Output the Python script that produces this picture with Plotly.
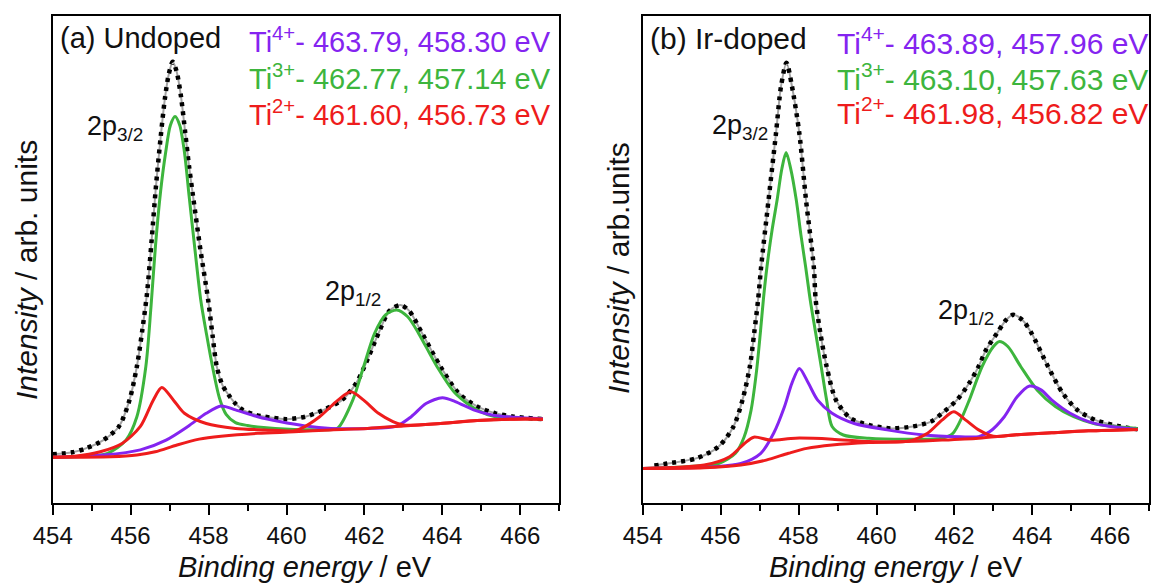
import plotly.graph_objects as go

# ---------------- Panel (a) Undoped ----------------
a_exp_x = [454.0, 454.5, 454.85, 455.3, 455.7, 455.97, 456.16, 456.30, 456.42, 456.54, 456.65, 456.77, 456.88,
           456.98, 457.08, 457.18, 457.29, 457.40, 457.50, 457.60, 457.79, 457.99, 458.10, 458.21, 458.35,
           458.51, 458.70, 458.88, 459.20, 459.45, 460.0, 460.48, 460.95, 461.42, 461.79, 462.0, 462.36,
           462.64, 462.92, 463.15, 463.48, 463.95, 464.42, 464.89, 465.36, 465.83, 466.58]
a_exp_y = [10.0, 10.4, 11.2, 12.9, 15.7, 21.1, 28.0, 35.5, 43.0, 54.0, 65.0, 75.0, 83.0,
           88.0, 90.5, 88.5, 83.5, 76.0, 69.0, 63.0, 52.0, 41.6, 34.5, 28.0, 24.3,
           22.2, 20.3, 19.1, 18.1, 17.7, 17.2, 17.7, 19.1, 21.1, 24.6, 28.0, 34.8,
           39.4, 40.6, 39.4, 34.8, 28.0, 22.5, 19.8, 18.4, 17.7, 17.2]

a_ti3_x = [454.0, 454.56, 455.41, 455.88, 456.16, 456.39, 456.52, 456.64, 456.77, 456.90, 457.02, 457.14,
           457.26, 457.38, 457.50, 457.65, 457.80, 457.95, 458.10, 458.28, 458.45, 458.69, 459.0, 459.26,
           460.2, 461.14, 461.32, 461.70, 461.98, 462.26, 462.54, 462.83, 463.11, 463.39, 463.86, 464.33,
           464.89, 465.36, 466.58]
a_ti3_y = [9.4, 9.5, 10.2, 12.9, 17.7, 28.0, 40.0, 53.0, 64.0, 72.0, 77.5, 79.3,
           77.5, 72.0, 63.0, 52.0, 41.6, 34.5, 28.0, 21.5, 18.2, 16.5, 15.9, 15.6,
           15.1, 15.1, 15.4, 21.1, 28.0, 34.8, 38.6, 39.6, 38.2, 34.8, 28.0, 22.5,
           19.1, 17.7, 17.3]

a_ti4_x = [454.0, 455.31, 456.25, 456.91, 457.47, 457.94, 458.32, 458.69, 459.26, 459.82, 460.48, 461.14,
           462.08, 462.83, 463.20, 463.58, 464.0, 464.33, 464.80, 465.27, 465.83, 466.58]
a_ti4_y = [9.4, 9.85, 10.9, 12.9, 15.7, 18.4, 19.9, 19.1, 17.7, 16.7, 15.8, 15.3,
           15.3, 15.8, 17.7, 20.4, 21.6, 20.8, 19.1, 18.05, 17.6, 17.3]

a_ti2_x = [454.0, 454.56, 455.22, 455.78, 456.25, 456.58, 456.80, 457.10, 457.38, 457.94, 458.69, 459.45,
           460.2, 460.38, 460.85, 461.32, 461.65, 461.98, 462.36, 462.73, 463.0, 463.95, 464.89, 465.83, 466.58]
a_ti2_y = [9.4, 9.6, 10.5, 12.2, 15.7, 21.1, 23.7, 21.1, 18.4, 16.3, 15.3, 15.0,
           14.8, 15.3, 17.7, 21.1, 22.8, 21.1, 18.4, 16.7, 16.0, 16.3, 16.9, 17.2, 17.2]

a_bg_x = [454.0, 455.5, 456.16, 456.63, 457.19, 457.76, 458.32, 459.26, 460.2, 461.14, 462.08, 463.0,
          463.95, 464.89, 465.83, 466.58]
a_bg_y = [9.4, 9.5, 9.85, 10.5, 11.9, 13.1, 13.7, 14.3, 14.6, 15.0, 15.3, 15.8,
          16.3, 16.9, 17.2, 17.2]

# ---------------- Panel (b) Ir-doped ----------------
b_exp_x = [454.3, 454.64, 455.39, 455.95, 456.33, 456.56, 456.75, 456.86, 456.96, 457.04, 457.23, 457.42,
           457.55, 457.69, 457.83, 458.02, 458.19, 458.39, 458.44, 458.56, 458.72, 458.96, 459.33, 459.80,
           460.37, 460.93, 461.40, 461.68, 462.06, 462.38, 462.62, 462.81, 463.09, 463.32, 463.51, 463.75,
           463.98, 464.40, 464.78, 465.15, 465.62, 466.19, 466.70]
b_exp_y = [7.7, 8.1, 9.2, 11.6, 15.7, 21.1, 28.0, 34.8, 41.6, 48.5, 62.2, 75.8,
           85.5, 90.3, 85.5, 75.8, 62.2, 48.5, 41.6, 34.8, 28.0, 21.1, 17.4, 16.0,
           15.3, 15.7, 16.7, 18.4, 21.1, 24.6, 28.0, 31.4, 34.8, 37.5, 38.6, 37.5,
           34.8, 28.0, 22.5, 19.1, 17.0, 15.8, 15.1]

b_ti3_x = [454.0, 455.11, 455.95, 456.38, 456.60, 456.78, 456.92, 457.02, 457.10, 457.19, 457.32, 457.45,
           457.57, 457.68, 457.80, 457.94, 458.06, 458.18, 458.30, 458.44, 458.58, 458.72, 458.86, 459.15,
           459.80, 460.74, 461.68, 461.96, 462.20, 462.38, 462.71, 463.00, 463.14, 463.37, 463.70, 464.12,
           464.59, 465.06, 465.62, 466.70]
b_ti3_y = [7.1, 7.45, 8.1, 10.2, 13.5, 19.0, 27.0, 35.0, 42.0, 48.5, 56.0, 62.2,
           68.5, 71.9, 68.5, 62.2, 55.0, 48.5, 41.6, 34.8, 28.0, 21.1, 15.7, 13.95,
           13.3, 13.1, 13.3, 14.3, 17.7, 21.1, 28.0, 32.1, 33.1, 32.1, 28.0, 23.2,
           19.8, 17.7, 16.2, 15.3]

b_ti4_x = [454.0, 455.86, 456.52, 457.03, 457.36, 457.64, 457.83, 458.02, 458.25, 458.49, 458.86, 459.43,
           460.27, 461.21, 462.15, 462.62, 462.90, 463.28, 463.61, 463.93, 464.22, 464.50, 464.97, 465.44,
           466.00, 466.70]
b_ti4_y = [7.1, 7.45, 8.1, 10.2, 14.3, 19.8, 24.6, 27.6, 24.6, 21.1, 18.4, 16.3,
           15.0, 13.95, 13.6, 13.6, 14.6, 17.7, 21.8, 24.0, 23.2, 21.1, 18.4, 16.7,
           15.7, 15.1]

b_ti2_x = [454.0, 455.58, 456.23, 456.61, 456.85, 457.27, 457.92, 458.86, 459.80, 460.74, 460.93, 461.31,
           461.68, 461.98, 462.29, 462.62, 463.00, 463.56, 464.50, 465.44, 466.70]
b_ti2_y = [7.1, 7.8, 9.5, 12.2, 13.5, 12.9, 13.3, 13.1, 12.6, 12.6, 12.9, 14.3,
           17.0, 18.7, 17.0, 15.0, 13.7, 14.0, 14.4, 14.8, 15.1]

b_bg_x = [454.0, 455.58, 456.52, 457.17, 457.74, 458.21, 458.86, 459.80, 460.74, 461.68, 462.62, 463.56,
          464.50, 465.44, 466.70]
b_bg_y = [7.1, 7.25, 7.8, 8.8, 10.2, 11.2, 11.9, 12.4, 12.6, 12.9, 13.3, 13.95,
          14.4, 14.8, 15.1]

# Labels
x_ticks = [454, 456, 458, 460, 462, 464, 466]
a_title = "(a) Undoped"
b_title = "(b) Ir-doped"
a_lines = ["463.79, 458.30 eV", "462.77, 457.14 eV", "461.60, 456.73 eV"]
b_lines = ["463.89, 457.96 eV", "463.10, 457.63 eV", "461.98, 456.82 eV"]
states = ["4+", "3+", "2+"]

GREEN = "#3DB53D"
PURPLE = "#8424F0"
RED = "#EE1C1C"
GREY = "#A3A3A3"
FONT = "Liberation Sans, Arial, sans-serif"

fig = go.Figure()


def add_panel(xa, ya, ex, ey, g, p, r, bg):
    sm = 0.8
    fig.add_trace(go.Scatter(x=ex, y=ey, mode="lines", xaxis=xa, yaxis=ya,
                             line=dict(color=GREY, width=2, shape="spline", smoothing=sm), showlegend=False))
    fig.add_trace(go.Scatter(x=ex, y=ey, mode="lines", xaxis=xa, yaxis=ya,
                             line=dict(color="black", width=4.5, dash="4px,5px", shape="spline", smoothing=sm),
                             showlegend=False))
    for (xs, ys), col in [(g, GREEN), (p, PURPLE), (r, RED), (bg, RED)]:
        fig.add_trace(go.Scatter(x=xs, y=ys, mode="lines", xaxis=xa, yaxis=ya,
                                 line=dict(color=col, width=3, shape="spline", smoothing=sm), showlegend=False))


add_panel("x", "y", a_exp_x, a_exp_y, (a_ti3_x, a_ti3_y), (a_ti4_x, a_ti4_y), (a_ti2_x, a_ti2_y), (a_bg_x, a_bg_y))
add_panel("x2", "y2", b_exp_x, b_exp_y, (b_ti3_x, b_ti3_y), (b_ti4_x, b_ti4_y), (b_ti2_x, b_ti2_y), (b_bg_x, b_bg_y))

W, H = 1152, 583


def px(v):
    return v / W


def py(v):
    return 1 - v / H


ydom = [py(503), py(15.5)]
xaxis_common = dict(range=[454, 467], tickmode="array", tickvals=x_ticks, ticks="outside", ticklen=10, tickwidth=2,
                    tickcolor="black", showline=True, linewidth=2, linecolor="black", mirror=True,
                    showgrid=False, zeroline=False, automargin=False,
                    tickfont=dict(family=FONT, size=24, color="#111"),
                    minor=dict(dtick=1, tick0=454, ticks="outside", ticklen=6, tickwidth=2, tickcolor="black"))
yaxis_common = dict(range=[0, 100], showticklabels=False, ticks="", showline=True, linewidth=2,
                    linecolor="black", mirror=True, showgrid=False, zeroline=False, automargin=False)

fig.update_layout(
    width=W, height=H, margin=dict(l=0, r=0, t=0, b=0, autoexpand=False),
    paper_bgcolor="white", plot_bgcolor="white", showlegend=False,
    xaxis=dict(domain=[px(52.7), px(559.3)], anchor="y", **xaxis_common),
    yaxis=dict(domain=ydom, anchor="x", **yaxis_common),
    xaxis2=dict(domain=[px(642.7), px(1149.3)], anchor="y2", **xaxis_common),
    yaxis2=dict(domain=ydom, anchor="x2", **yaxis_common),
)

ann = []


def add_text(x, y, text, size, color="#111", xanchor="left", angle=0):
    ann.append(dict(x=px(x), y=py(y), xref="paper", yref="paper", text=text, showarrow=False,
                    xanchor=xanchor, yanchor="middle", textangle=angle,
                    font=dict(family=FONT, size=size, color=color)))


cols = [PURPLE, GREEN, RED]
ys_a = [40, 77, 113]
ys_b = [41, 77, 111]

add_text(58, 38, a_title, 29)
for s, t, c, yy in zip(states, a_lines, cols, ys_a):
    add_text(553, yy, f"Ti<sup>{s}</sup>- {t}", 29, c, xanchor="right")
add_text(648, 39, b_title, 30)
for s, t, c, yy in zip(states, b_lines, cols, ys_b):
    add_text(1150, yy, f"Ti<sup>{s}</sup>- {t}", 30, c, xanchor="right")

add_text(85, 128, "2p<sub>3/2</sub>", 27)
add_text(323, 293, "2p<sub>1/2</sub>", 27)
add_text(710, 127, "2p<sub>3/2</sub>", 27)
add_text(936, 312, "2p<sub>1/2</sub>", 27)

add_text(305, 567, "<i>Binding energy</i> / eV", 29, xanchor="center")
add_text(896, 567, "<i>Binding energy</i> / eV", 29, xanchor="center")
add_text(26, 270, "<i>Intensity</i> / arb. units", 30, xanchor="center", angle=-90)
add_text(618, 268, "<i>Intensity</i> / arb.units", 30, xanchor="center", angle=-90)

fig.update_layout(annotations=ann)
fig.write_html("out.html", config={"displayModeBar": False},
               post_script="document.body.style.margin='0px';document.body.style.overflow='hidden';")
